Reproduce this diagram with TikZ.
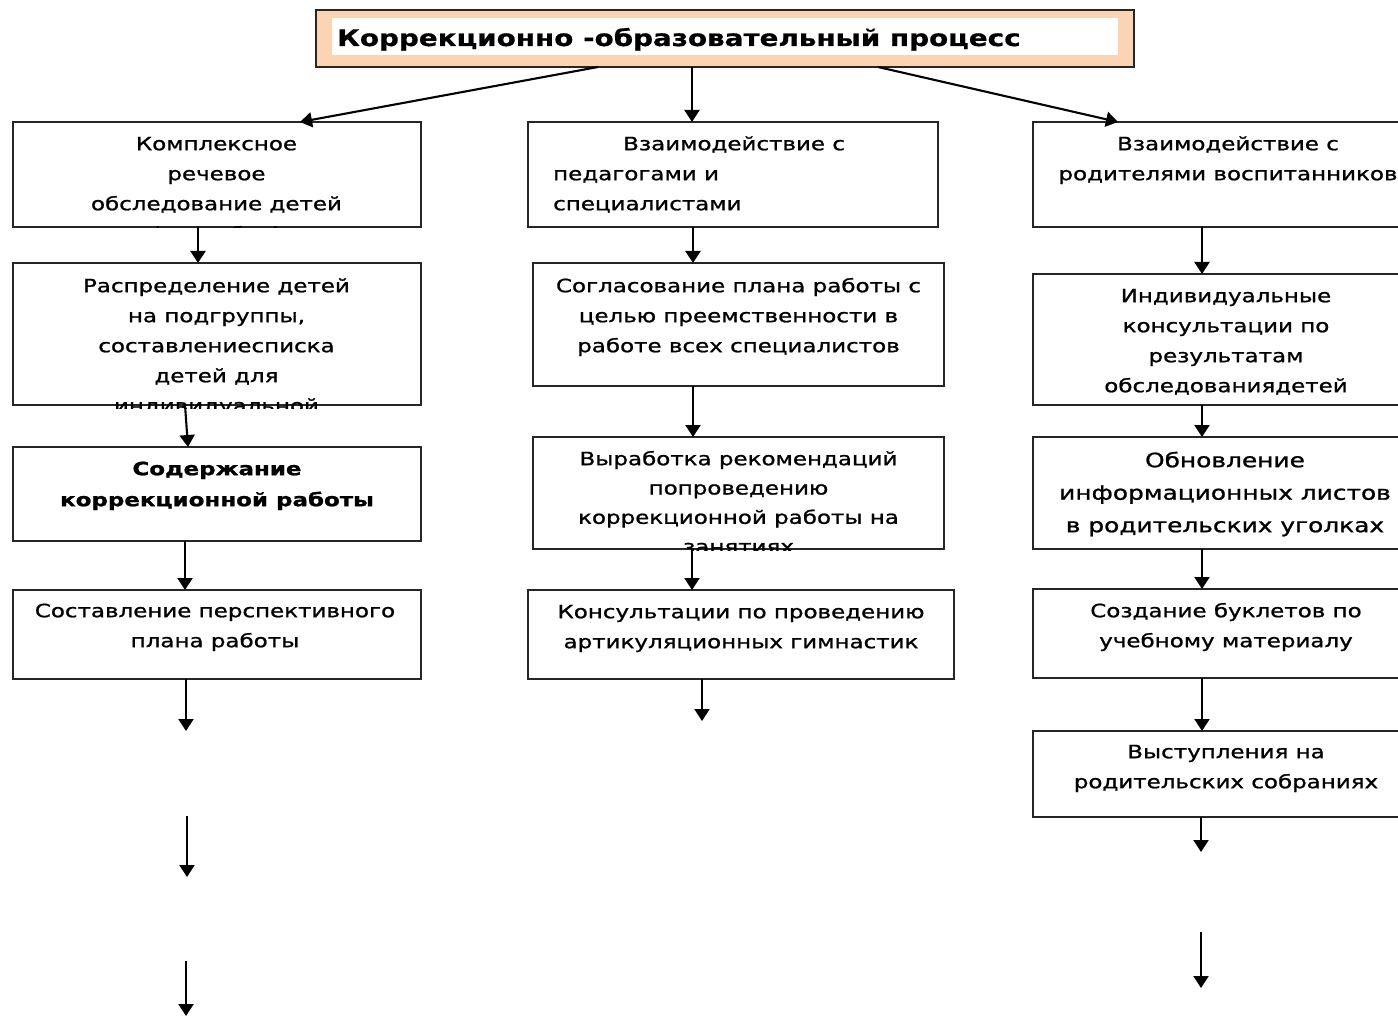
\documentclass[tikz,border=0pt]{standalone}
\usepackage{fontspec}
\setmainfont[FakeStretch=1.255,FakeBold=1.1]{DejaVu Sans}
\newfontfamily\titlefont[FakeStretch=1.22,FakeBold=0.6]{DejaVu Sans}
\usetikzlibrary{arrows.meta}
\definecolor{peach}{RGB}{251,212,180}
\newcommand\fs{\rule{0pt}{22pt}}
\begin{document}
\begin{tikzpicture}[x=1pt,y=-1pt,
  box/.style={draw=black!85, line width=1.5pt, anchor=north west, inner sep=0pt, outer sep=0pt},
  txt/.style={anchor=north, inner sep=0pt, align=center, font=\fontsize{18.3}{30}\selectfont},
  arr/.style={line width=2.1pt, -{Triangle[width=15pt,length=12pt]}},
]
\fill[white] (0,0) rectangle (1398,1016);
\useasboundingbox (0,0) rectangle (1398,1016);

% title
\node[box, fill=peach, minimum width=818pt, minimum height=57pt] (title) at (316,10) {};
\node[anchor=north west, fill=white, inner sep=0pt, minimum width=786pt, minimum height=37pt] (titlein) at (332,18) {};
\node[anchor=base west, inner sep=0pt, font=\titlefont\bfseries\fontsize{22.8}{26}\selectfont] (tt) at (337,46) {Коррекционно -образовательный процесс};

% left column
\node[box, minimum width=408pt, minimum height=105pt] (b1) at (13,122) {};
\node[box, minimum width=408pt, minimum height=142pt] (b2) at (13,263) {};
\node[box, minimum width=408pt, minimum height=94pt] (b3) at (13,447) {};
\node[box, minimum width=408pt, minimum height=89pt] (b4) at (13,590) {};
\begin{scope}
\clip (13,122) rectangle (421,228);
\node[txt] (t1) at (216.5,128) {\fs Комплексное\\речевое\\обследование детей\\(сентябрь)};
\end{scope}
\begin{scope}
\clip (13,263) rectangle (421,408);
\node[txt] (t2) at (216.5,270) {\fs Распределение детей\\на подгруппы,\\составлениесписка\\детей для\\индивидуальной};
\end{scope}
\node[txt, font=\fontsize{18.3}{31}\selectfont\bfseries] (t3) at (217,453) {\fs Содержание\\коррекционной работы};
\node[txt] (t4) at (215,595) {\fs Составление перспективного\\плана работы};

% middle column
\node[box, minimum width=410pt, minimum height=105pt] (m1) at (528,122) {};
\node[box, minimum width=411pt, minimum height=123pt] (m2) at (533,263) {};
\node[box, minimum width=411pt, minimum height=112pt] (m3) at (533,437) {};
\node[box, minimum width=426pt, minimum height=89pt] (m4) at (528,590) {};
\node[txt, anchor=north west, align=left] (u1) at (553,128) {\fs\hspace*{70pt}Взаимодействие с\\педагогами и\\специалистами};
\node[txt] (u2) at (738.5,270) {\fs Согласование плана работы с\\целью преемственности в\\работе всех специалистов};
\begin{scope}
\clip (533,437) rectangle (944,550);
\node[txt, font=\fontsize{18.3}{29.3}\selectfont] (u3) at (738.5,443) {\fs Выработка рекомендаций\\попроведению\\коррекционной работы на\\занятиях};
\end{scope}
\node[txt] (u4) at (741,596) {\fs Консультации по проведению\\артикуляционных гимнастик};

% right column
\node[box, minimum width=386pt, minimum height=105pt] (r1) at (1033,122) {};
\node[box, minimum width=386pt, minimum height=131pt] (r2) at (1033,274) {};
\node[box, minimum width=386pt, minimum height=112pt] (r3) at (1033,437) {};
\node[box, minimum width=386pt, minimum height=89pt] (r4) at (1033,589) {};
\node[box, minimum width=386pt, minimum height=86pt] (r5) at (1033,731) {};
\node[txt] (v1) at (1228,128) {\fs Взаимодействие с\\родителями воспитанников};
\node[txt] (v2) at (1226,280) {\fs Индивидуальные\\консультации по\\результатам\\обследованиядетей};
\node[txt, font=\fontsize{19.8}{32.5}\selectfont] (v3) at (1225,445) {\fs Обновление\\информационных листов\\в родительских уголках};
\node[txt] (v4) at (1226,595) {\fs Создание буклетов по\\учебному материалу};
\node[txt] (v5) at (1226,736) {\fs Выступления на\\родительских собраниях};

% free arrow ends
\coordinate (e1) at (186,731);
\coordinate (e2a) at (187,816);
\coordinate (e2b) at (187,877);
\coordinate (e3a) at (186,961);
\coordinate (e3b) at (186,1016);
\coordinate (e4) at (702,721);
\coordinate (e5) at (1201,852);
\coordinate (e6a) at (1201,932);
\coordinate (e6b) at (1201,988);

% connectors
\draw[arr] ([xshift=-127pt]title.south) -- ([xshift=83pt]b1.north);
\draw[arr] ([xshift=-33pt]title.south) -- ([xshift=-41pt]m1.north);
\draw[arr] ([xshift=153pt]title.south) -- ([xshift=-108pt]r1.north);

\draw[arr] ([xshift=-19pt]b1.south) -- ([xshift=-19pt]b2.north);
\draw[arr] ([xshift=-32pt]b2.south) -- ([xshift=-29pt]b3.north);
\draw[arr] ([xshift=-32pt]b3.south) -- ([xshift=-32pt]b4.north);
\draw[arr] ([xshift=-31pt]b4.south) -- (e1);
\draw[arr] (e2a) -- (e2b);
\draw[arr] (e3a) -- (e3b);

\draw[arr] ([xshift=-40pt]m1.south) -- ([xshift=-45.5pt]m2.north);
\draw[arr] ([xshift=-45.5pt]m2.south) -- ([xshift=-45.5pt]m3.north);
\draw[arr] ([xshift=-46.5pt]m3.south) -- ([xshift=-49pt]m4.north);
\draw[arr] ([xshift=-39pt]m4.south) -- (e4);

\draw[arr] ([xshift=-24pt]r1.south) -- ([xshift=-24pt]r2.north);
\draw[arr] ([xshift=-24pt]r2.south) -- ([xshift=-24pt]r3.north);
\draw[arr] ([xshift=-24pt]r3.south) -- ([xshift=-24pt]r4.north);
\draw[arr] ([xshift=-24pt]r4.south) -- ([xshift=-24pt]r5.north);
\draw[arr] ([xshift=-25pt]r5.south) -- (e5);
\draw[arr] (e6a) -- (e6b);
\end{tikzpicture}
\end{document}
